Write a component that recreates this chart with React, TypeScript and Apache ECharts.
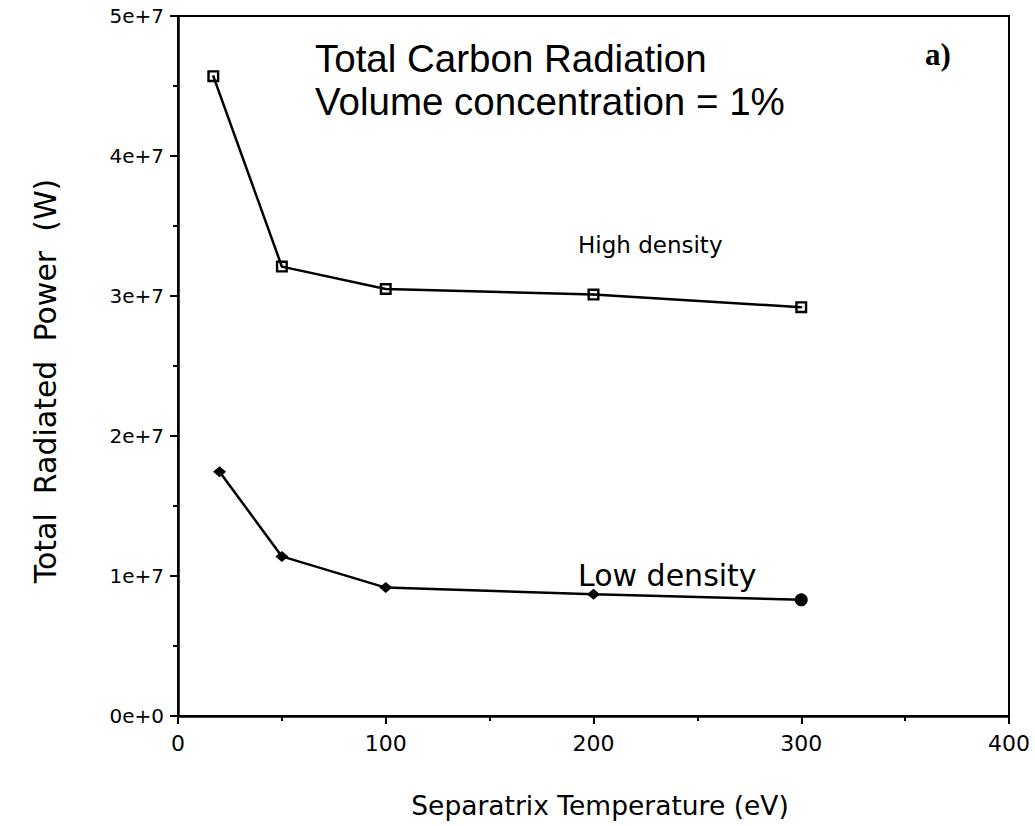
import React, { useEffect, useRef } from "react";
import * as echarts from "echarts";

// Separatrix temperature (eV) and total radiated power (W)
const highDensityTemp = [17, 50, 100, 200, 300];
const highDensityPower = [4.57e7, 3.21e7, 3.05e7, 3.01e7, 2.92e7];
const lowDensityTemp = [20, 50, 100, 200, 300];
const lowDensityPower = [1.745e7, 1.14e7, 0.917e7, 0.87e7, 0.83e7];

const yTickLabels = ["0e+0", "1e+7", "2e+7", "3e+7", "4e+7", "5e+7"];

const titleLines = ["Total Carbon Radiation", "Volume concentration = 1%"];
const panelTag = "a)";
const highLabel = "High density";
const lowLabel = "Low density";
const xTitle = "Separatrix Temperature (eV)";
const yTitle = ["Total", "Radiated", "Power", "(W)"].join("\u00a0\u00a0");

// open square with a centre dot
const squareDot =
  "path://M0,0H10V10H0ZM2,2V8H8V2ZM4.2,4.2H5.8V5.8H4.2Z";

const SANS = "'DejaVu Sans', sans-serif";

export default function App() {
  const ref = useRef<HTMLDivElement>(null);

  useEffect(() => {
    if (!ref.current) return;
    const chart = echarts.init(ref.current, undefined, { renderer: "svg" });

    const high = highDensityTemp.map((t, i) => [t, highDensityPower[i]]);
    const low = lowDensityTemp.map((t, i) => {
      const v = [t, lowDensityPower[i]];
      return i === lowDensityTemp.length - 1
        ? { value: v, symbol: "circle", symbolSize: 13 }
        : { value: v };
    });

    chart.setOption({
      animation: false,
      backgroundColor: "#fff",
      grid: {
        left: 178,
        right: 26,
        top: 16,
        bottom: 110,
        show: true,
        borderColor: "#000",
        borderWidth: 2,
        backgroundColor: "transparent",
      },
      xAxis: {
        type: "value",
        min: 0,
        max: 400,
        interval: 100,
        axisLine: { show: true, lineStyle: { color: "#000", width: 2.5 } },
        axisTick: { show: true, inside: false, length: 8, lineStyle: { color: "#000", width: 2 } },
        minorTick: { show: true, splitNumber: 2, length: 5, lineStyle: { color: "#000", width: 2 } },
        splitLine: { show: false },
        axisLabel: { color: "#000", fontFamily: SANS, fontSize: 22, margin: 16 },
      },
      yAxis: {
        type: "value",
        min: 0,
        max: 5e7,
        interval: 1e7,
        axisLine: { show: true, lineStyle: { color: "#000", width: 2.5 } },
        axisTick: { show: true, inside: false, length: 8, lineStyle: { color: "#000", width: 2 } },
        minorTick: { show: true, splitNumber: 2, length: 5, lineStyle: { color: "#000", width: 2 } },
        splitLine: { show: false },
        axisLabel: {
          color: "#000",
          fontFamily: SANS,
          fontSize: 20,
          margin: 14,
          formatter: (v: number) => yTickLabels[Math.round(v / 1e7)],
        },
      },
      series: [
        {
          type: "line",
          data: high,
          symbol: squareDot,
          symbolSize: 12,
          showAllSymbol: true,
          lineStyle: { color: "#000", width: 2.5 },
          itemStyle: { color: "#000" },
          z: 3,
        },
        {
          type: "line",
          data: low,
          symbol: "diamond",
          symbolSize: [13, 11],
          showAllSymbol: true,
          lineStyle: { color: "#000", width: 2.5 },
          itemStyle: { color: "#000" },
          z: 3,
        },
      ],
      graphic: [
        {
          type: "text",
          left: 315,
          top: 37,
          style: {
            text: titleLines.join("\n"),
            fontFamily: "'Liberation Sans', Arial, sans-serif",
            fontSize: 38.5,
            lineHeight: 43,
            fill: "#000",
          },
        },
        {
          type: "text",
          x: 938,
          y: 54,
          style: {
            text: panelTag,
            fontFamily: "'Liberation Serif', serif",
            fontWeight: "bold",
            fontSize: 31,
            fill: "#000",
            align: "center",
            verticalAlign: "middle",
          },
        },
        {
          type: "text",
          x: 578,
          y: 245,
          style: {
            text: highLabel,
            fontFamily: SANS,
            fontSize: 23,
            fill: "#000",
            align: "left",
            verticalAlign: "middle",
          },
        },
        {
          type: "text",
          x: 578,
          y: 575,
          style: {
            text: lowLabel,
            fontFamily: SANS,
            fontSize: 30,
            fill: "#000",
            align: "left",
            verticalAlign: "middle",
          },
        },
        {
          type: "text",
          x: 600,
          y: 805,
          style: {
            text: xTitle,
            fontFamily: SANS,
            fontSize: 26.5,
            fill: "#000",
            align: "center",
            verticalAlign: "middle",
          },
        },
        {
          type: "text",
          x: 45,
          y: 381,
          rotation: Math.PI / 2,
          style: {
            text: yTitle,
            fontFamily: SANS,
            fontSize: 30,
            fill: "#000",
            align: "center",
            verticalAlign: "middle",
          },
        },
      ],
    });

    return () => chart.dispose();
  }, []);

  return (
    <div
      ref={ref}
      style={{ position: "fixed", left: 0, top: 0, width: 1035, height: 826, background: "#fff" }}
    />
  );
}
